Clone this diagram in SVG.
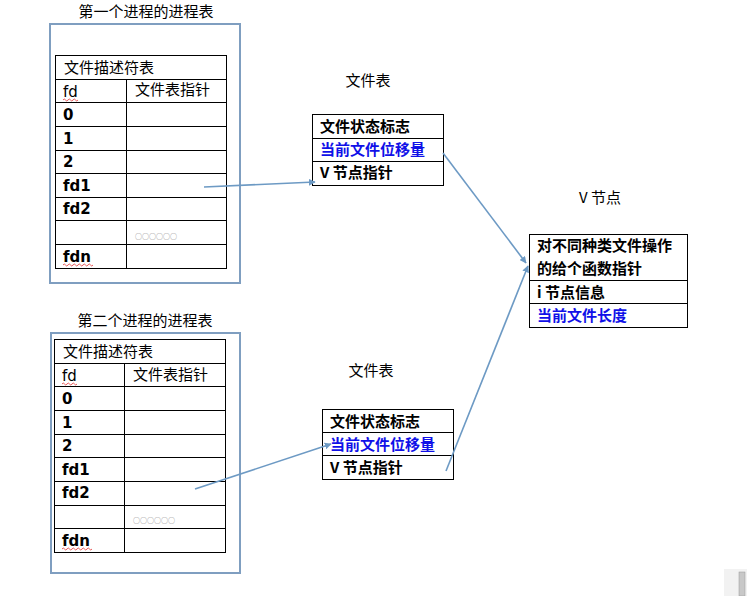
<svg xmlns="http://www.w3.org/2000/svg" width="747" height="596" viewBox="0 0 747 596">
<style>
text{font-family:"Noto Sans CJK SC","Liberation Sans",sans-serif;font-size:15px;fill:#000}
.t{font-weight:normal}
.b{font-weight:bold}
.blue{fill:#1010e8}
.num{font-family:"DejaVu Sans","Noto Sans CJK SC",sans-serif;font-weight:bold;font-size:15px}
.fdr{font-family:"DejaVu Sans","Noto Sans CJK SC",sans-serif;font-size:15px}
.outer{fill:none;stroke:#7f9ec0;stroke-width:2}
.tbl{fill:#fff;stroke:#000;stroke-width:1}
.ln{stroke:#000;stroke-width:1}
.dots{font-size:7px;fill:#777}
.sq{fill:none;stroke:#e03030;stroke-width:0.8}
.conn{stroke:#6d9ac4;stroke-width:1.6;fill:none;marker-end:url(#ah)}
</style>
<defs>
<marker id="ah" viewBox="0 0 10 10" refX="9" refY="5" markerWidth="7" markerHeight="7" orient="auto" markerUnits="userSpaceOnUse">
<path d="M0,0 L10,5 L0,10 z" fill="#6d9ac4"/>
</marker>
</defs>
<rect width="747" height="596" fill="#fff"/>

<g id="proc1">
<text x="146" y="17" text-anchor="middle">第一个进程的进程表</text>
<rect class="outer" x="50" y="24" width="190" height="259"/>
<rect class="tbl" x="55.5" y="55.5" width="171" height="213"/>
<line class="ln" x1="55.5" y1="79.5" x2="226.5" y2="79.5"/>
<line class="ln" x1="55.5" y1="102.5" x2="226.5" y2="102.5"/>
<line class="ln" x1="55.5" y1="126.5" x2="226.5" y2="126.5"/>
<line class="ln" x1="55.5" y1="150.5" x2="226.5" y2="150.5"/>
<line class="ln" x1="55.5" y1="173.5" x2="226.5" y2="173.5"/>
<line class="ln" x1="55.5" y1="197.5" x2="226.5" y2="197.5"/>
<line class="ln" x1="55.5" y1="220.5" x2="226.5" y2="220.5"/>
<line class="ln" x1="55.5" y1="244.5" x2="226.5" y2="244.5"/>
<line class="ln" x1="126.5" y1="79.5" x2="126.5" y2="268.5"/>
<text x="64" y="73">文件描述符表</text>
<text class="fdr" x="63" y="97">fd</text>
<path class="sq" d="M63,100 q1.25,-2 2.5,0 t2.5,0 t2.5,0 t2.5,0 t2.5,0 t2.5,0"/>
<text x="135" y="95">文件表指针</text>
<text class="num" x="63" y="120">0</text>
<text class="num" x="63" y="144">1</text>
<text class="num" x="63" y="167">2</text>
<text class="num" x="63" y="191">fd1</text>
<text class="num" x="63" y="214">fd2</text>
<text class="dots" x="135" y="239">○○○○○○</text>
<text class="num" x="63" y="262">fdn</text>
<path class="sq" d="M63,265 q1.25,-2 2.5,0 t2.5,0 t2.5,0 t2.5,0 t2.5,0 t2.5,0 t2.5,0 t2.5,0 t2.5,0 t2.5,0 t2.5,0 t2.5,0"/>
</g>

<g id="proc2">
<text x="145" y="326" text-anchor="middle">第二个进程的进程表</text>
<rect class="outer" x="51" y="333" width="189" height="240"/>
<rect class="tbl" x="54.5" y="339.5" width="171" height="213"/>
<line class="ln" x1="54.5" y1="363.5" x2="225.5" y2="363.5"/>
<line class="ln" x1="54.5" y1="386.5" x2="225.5" y2="386.5"/>
<line class="ln" x1="54.5" y1="410.5" x2="225.5" y2="410.5"/>
<line class="ln" x1="54.5" y1="434.5" x2="225.5" y2="434.5"/>
<line class="ln" x1="54.5" y1="457.5" x2="225.5" y2="457.5"/>
<line class="ln" x1="54.5" y1="481.5" x2="225.5" y2="481.5"/>
<line class="ln" x1="54.5" y1="505.5" x2="225.5" y2="505.5"/>
<line class="ln" x1="54.5" y1="528.5" x2="225.5" y2="528.5"/>
<line class="ln" x1="124.5" y1="363.5" x2="124.5" y2="552.5"/>
<text x="63" y="357">文件描述符表</text>
<text class="fdr" x="62" y="381">fd</text>
<path class="sq" d="M62,384 q1.25,-2 2.5,0 t2.5,0 t2.5,0 t2.5,0 t2.5,0 t2.5,0"/>
<text x="133" y="380">文件表指针</text>
<text class="num" x="62" y="404">0</text>
<text class="num" x="62" y="428">1</text>
<text class="num" x="62" y="451">2</text>
<text class="num" x="62" y="475">fd1</text>
<text class="num" x="62" y="498">fd2</text>
<text class="dots" x="133" y="523">○○○○○○</text>
<text class="num" x="62" y="546">fdn</text>
<path class="sq" d="M62,549 q1.25,-2 2.5,0 t2.5,0 t2.5,0 t2.5,0 t2.5,0 t2.5,0 t2.5,0 t2.5,0 t2.5,0 t2.5,0 t2.5,0 t2.5,0"/>
</g>

<g id="filetable1">
<text x="368" y="86" text-anchor="middle">文件表</text>
<rect class="tbl" x="312.5" y="114.5" width="131" height="71"/>
<line class="ln" x1="312.5" y1="138.5" x2="443.5" y2="138.5"/>
<line class="ln" x1="312.5" y1="161.5" x2="443.5" y2="161.5"/>
<text class="b" x="320" y="132">文件状态标志</text>
<text class="b blue" x="320" y="155">当前文件位移量</text>
<text class="b" x="320" y="178">V 节点指针</text>
</g>

<g id="filetable2">
<text x="371" y="376" text-anchor="middle">文件表</text>
<rect class="tbl" x="322.5" y="409.5" width="131" height="70"/>
<line class="ln" x1="322.5" y1="432.5" x2="453.5" y2="432.5"/>
<line class="ln" x1="322.5" y1="455.5" x2="453.5" y2="455.5"/>
<text class="b" x="330" y="427">文件状态标志</text>
<text class="b blue" x="330" y="450">当前文件位移量</text>
<text class="b" x="330" y="473">V 节点指针</text>
</g>

<g id="vnode">
<text x="600" y="203" text-anchor="middle">V 节点</text>
<rect class="tbl" x="529.5" y="234.5" width="158" height="93"/>
<line class="ln" x1="529.5" y1="280.5" x2="687.5" y2="280.5"/>
<line class="ln" x1="529.5" y1="303.5" x2="687.5" y2="303.5"/>
<text class="b" x="537" y="251">对不同种类文件操作</text>
<text class="b" x="537" y="274">的给个函数指针</text>
<text class="b" x="537" y="298">i 节点信息</text>
<text class="b blue" x="537" y="321">当前文件长度</text>
</g>

<g id="connectors">
<line class="conn" x1="204" y1="187" x2="315" y2="182"/>
<line class="conn" x1="443" y1="153" x2="526" y2="263"/>
<line class="conn" x1="195" y1="489" x2="331" y2="444"/>
<line class="conn" x1="446" y1="471" x2="528" y2="266"/>
</g>

<g id="artifact">
<rect x="724" y="569" width="23" height="27" fill="#f2f2f2"/>
<rect x="739" y="572" width="6" height="24" fill="#c8c8c8" stroke="#999" stroke-width="0.5"/>
</g>
</svg>
